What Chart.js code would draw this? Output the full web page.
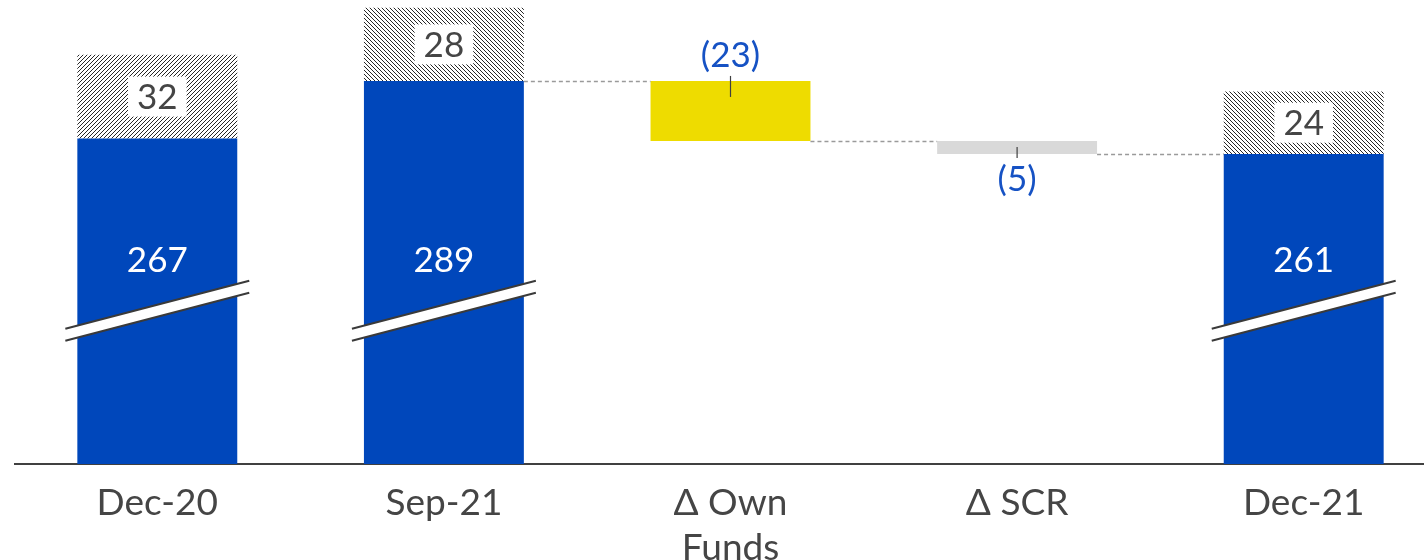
<!DOCTYPE html>
<html>
<head>
<meta charset="utf-8">
<script src="https://cdn.jsdelivr.net/npm/chart.js@4.4.1/dist/chart.umd.min.js"></script>
<style>
  html, body { margin: 0; padding: 0; background: #fff; overflow: hidden; }
  #wrap { position: absolute; left: 14px; top: 0; width: 1433px; height: 560px; }
</style>
</head>
<body>
<div id="wrap"><canvas id="myChart" width="1433" height="560"></canvas></div>
<script>
// data
const categories = ['Dec-20', 'Sep-21', ['\u0394 Own', 'Funds'], '\u0394 SCR', 'Dec-21'];
const totals = [267, 289, null, null, 261];
const buffers = [32, 28, null, null, 24];
const deltas = [null, null, -23, -5, null];
const axisMin = 142.3;   // broken axis, does not start at zero
const axisMax = 320;
const breakAt = 201;     // where the break mark sits on the total bars
const totalLabelAt = 220;

// floating ranges built from the arrays above
let level = 0;
const totalRanges = [], bufferRanges = [], deltaRanges = [];
for (let i = 0; i < categories.length; i++) {
    if (totals[i] != null) {
        level = totals[i];
        totalRanges.push([axisMin, totals[i]]);
        bufferRanges.push([totals[i], totals[i] + buffers[i]]);
        deltaRanges.push(null);
    } else {
        const next = level + deltas[i];
        deltaRanges.push([Math.min(level, next), Math.max(level, next)]);
        totalRanges.push(null);
        bufferRanges.push(null);
        level = next;
    }
}

const ctx = document.getElementById('myChart').getContext('2d');

function hatch(dir) {
    const c = document.createElement('canvas');
    c.width = 4; c.height = 4;
    const g = c.getContext('2d');
    g.fillStyle = '#ffffff';
    g.fillRect(0, 0, 4, 4);
    g.fillStyle = '#262626';
    for (let i = 0; i < 4; i++) g.fillRect(dir > 0 ? 3 - i : i, i, 1, 1);
    return ctx.createPattern(c, 'repeat');
}

const FONT = 'Lato, "Open Sans", sans-serif';
const deltaColors = ['#fff', '#fff', '#EEDC00', '#D9D9D9', '#fff'];
const hatchDir = [1, -1, 0, 0, -1];
const deltaLabelSide = ['', '', 'above', 'below', ''];

const decorations = {
    id: 'decorations',
    afterDatasetsDraw(chart) {
        const c = chart.ctx;
        const y = chart.scales.y;
        const totMeta = chart.getDatasetMeta(0).data;
        const bufMeta = chart.getDatasetMeta(1).data;
        const dMeta = chart.getDatasetMeta(2).data;
        c.save();

        // dashed connectors between bars
        c.strokeStyle = '#9a9a9a';
        c.lineWidth = 1.5;
        c.setLineDash([4, 3]);
        let lvl = null, prevRight = null;
        for (let i = 0; i < categories.length; i++) {
            const bar = totals[i] != null ? totMeta[i] : dMeta[i];
            const left = bar.x - bar.width / 2;
            if (lvl != null && i > 0 && (totals[i] == null || totals[i - 1] == null)) {
                const py = Math.round(y.getPixelForValue(lvl)) + 0.5;
                c.beginPath(); c.moveTo(prevRight, py); c.lineTo(left, py); c.stroke();
            }
            lvl = totals[i] != null ? totals[i] : lvl + deltas[i];
            prevRight = bar.x + bar.width / 2;
        }
        c.setLineDash([]);

        // break marks and labels on total bars
        c.textAlign = 'center';
        c.textBaseline = 'middle';
        for (let i = 0; i < categories.length; i++) {
            if (totals[i] == null) continue;
            const b = totMeta[i];
            const cy = y.getPixelForValue(breakAt);
            const hw = b.width / 2 + 12;
            const rise = 24, gap = 6;
            c.fillStyle = '#fff';
            c.beginPath();
            c.moveTo(b.x - hw, cy + rise - gap);
            c.lineTo(b.x + hw, cy - rise - gap);
            c.lineTo(b.x + hw, cy - rise + gap);
            c.lineTo(b.x - hw, cy + rise + gap);
            c.closePath(); c.fill();
            c.strokeStyle = '#3a3a3a';
            c.lineWidth = 2;
            c.beginPath();
            c.moveTo(b.x - hw, cy + rise - gap); c.lineTo(b.x + hw, cy - rise - gap);
            c.moveTo(b.x - hw, cy + rise + gap); c.lineTo(b.x + hw, cy - rise + gap);
            c.stroke();

            c.font = '35px ' + FONT;
            c.fillStyle = '#ffffff';
            c.fillText(String(totals[i]), b.x, y.getPixelForValue(totalLabelAt));

            const hb = bufMeta[i];
            const my = (hb.y + hb.base) / 2;
            const txt = String(buffers[i]);
            const w = c.measureText(txt).width + 18;
            c.fillStyle = '#ffffff';
            c.fillRect(hb.x - w / 2, my - 20, w, 40);
            c.fillStyle = '#454545';
            c.fillText(txt, hb.x, my + 1);
        }

        // delta labels
        for (let i = 0; i < categories.length; i++) {
            if (deltas[i] == null) continue;
            const b = dMeta[i];
            const top = Math.min(b.y, b.base), bottom = Math.max(b.y, b.base);
            c.strokeStyle = '#404040';
            c.lineWidth = 1.2;
            c.beginPath();
            let ty;
            if (deltaLabelSide[i] === 'above') {
                c.moveTo(b.x, top - 5); c.lineTo(b.x, top + 16);
                ty = top - 25;
            } else {
                c.moveTo(b.x, bottom - 7); c.lineTo(b.x, bottom + 4);
                ty = bottom + 26;
            }
            c.stroke();
            c.font = '35px ' + FONT;
            c.fillStyle = '#1652C4';
            c.fillText('(' + Math.abs(deltas[i]) + ')', b.x, ty);
        }
        c.restore();
    }
};

const myChart = new Chart(ctx, {
    type: 'bar',
    data: {
        labels: categories,
        datasets: [{
            label: 'Total',
            data: totalRanges,
            backgroundColor: '#0047BB',
            grouped: false
        }, {
            label: 'Buffer',
            data: bufferRanges,
            backgroundColor: hatchDir.map(d => d ? hatch(d) : '#fff'),
            grouped: false
        }, {
            label: 'Change',
            data: deltaRanges,
            backgroundColor: deltaColors,
            grouped: false
        }]
    },
    options: {
        responsive: false,
        animation: false,
        categoryPercentage: 1,
        barPercentage: 0.558,
        layout: { padding: 0 },
        plugins: {
            legend: { display: false },
            tooltip: { enabled: false }
        },
        scales: {
            x: {
                grid: { display: false, drawTicks: false },
                border: { display: true, color: '#404040', width: 2 },
                ticks: {
                    color: '#454545',
                    font: { family: FONT, size: 37, lineHeight: 1.22 },
                    padding: 16,
                    maxRotation: 0,
                    autoSkip: false
                },
                afterFit(scale) { scale.height = 96; }
            },
            y: {
                display: false,
                min: axisMin,
                max: axisMax
            }
        }
    },
    plugins: [decorations]
});
</script>
</body>
</html>
